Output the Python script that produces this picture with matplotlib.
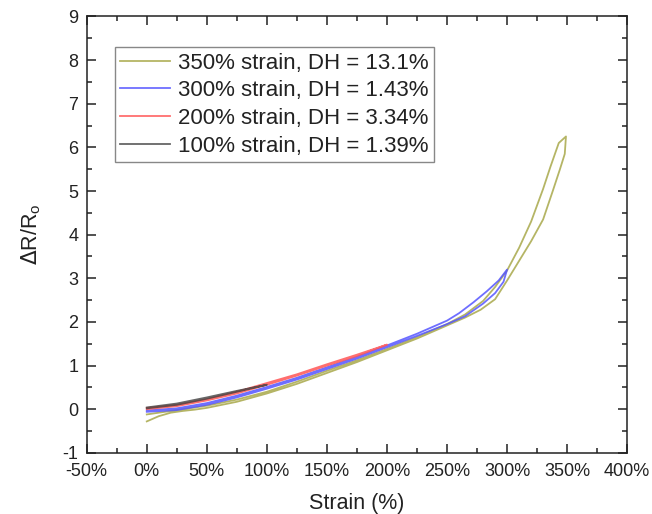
import numpy as np
import matplotlib.pyplot as plt
from matplotlib.ticker import MultipleLocator, PercentFormatter

plt.rcParams['font.family'] = ['Liberation Sans', 'DejaVu Sans']
plt.rcParams['axes.unicode_minus'] = False

# 350% strain cycle (load then unload), strain in %
s350_x = [0, 5, 10, 20, 30, 40, 50, 75, 100, 125, 150, 175, 200, 225, 250, 265, 278,
          290, 300, 310, 320, 330, 338, 344, 348, 349,
          343, 336, 330, 320, 310, 300, 290, 280, 265, 250, 225, 200, 175, 150, 125,
          100, 75, 50, 30, 15, 0]
s350_y = [-0.28, -0.22, -0.16, -0.08, -0.04, -0.01, 0.03, 0.17, 0.36, 0.58, 0.83, 1.08, 1.35, 1.62, 1.92, 2.1, 2.28,
          2.52, 2.95, 3.4, 3.85, 4.35, 5.0, 5.5, 5.85, 6.25,
          6.1, 5.55, 5.05, 4.3, 3.7, 3.18, 2.8, 2.48, 2.17, 1.95, 1.65, 1.38, 1.12, 0.88, 0.63,
          0.4, 0.22, 0.08, 0.0, -0.06, -0.12]

# 300% strain cycle
s300_x = [0, 25, 50, 75, 100, 125, 150, 175, 200, 225, 250, 265, 280, 290, 297, 300,
          293, 283, 272, 260, 250, 225, 200, 175, 150, 125, 100, 75, 50, 25, 0]
s300_y = [-0.06, -0.02, 0.1, 0.27, 0.47, 0.68, 0.92, 1.16, 1.42, 1.68, 1.95, 2.13, 2.42, 2.66, 2.92, 3.2,
          2.95, 2.7, 2.45, 2.2, 2.03, 1.73, 1.46, 1.2, 0.96, 0.72, 0.51, 0.31, 0.14, 0.02, -0.03]

# 200% strain cycle
s200_x = [0, 25, 50, 75, 100, 125, 150, 175, 200, 175, 150, 125, 100, 75, 50, 25, 0]
s200_y = [0.0, 0.07, 0.2, 0.36, 0.56, 0.77, 1.0, 1.22, 1.48, 1.25, 1.03, 0.8, 0.6, 0.4, 0.23, 0.1, 0.03]

# 100% strain cycle
s100_x = [0, 25, 50, 75, 100, 75, 50, 25, 0]
s100_y = [0.02, 0.1, 0.24, 0.4, 0.56, 0.42, 0.27, 0.13, 0.04]

labels = ['350% strain, DH = 13.1%', '300% strain, DH = 1.43%',
          '200% strain, DH = 3.34%', '100% strain, DH = 1.39%']

fig = plt.figure(figsize=(6.52, 5.14), dpi=100)
ax = fig.add_axes([0.133, 0.119, 0.829, 0.849])

ax.plot(s350_x, s350_y, color='#b5b565', lw=1.3, label=labels[0])
ax.plot(s300_x, s300_y, color='#5555ff', lw=1.3, alpha=0.85, label=labels[1])
ax.plot(s200_x, s200_y, color='#ff5555', lw=1.3, alpha=0.85, label=labels[2])
ax.plot(s100_x, s100_y, color='#404040', lw=1.3, alpha=0.8, label=labels[3])

ax.set_xlim(-50, 400)
ax.set_ylim(-1, 9)
ax.xaxis.set_major_locator(MultipleLocator(50))
ax.xaxis.set_minor_locator(MultipleLocator(25))
ax.yaxis.set_major_locator(MultipleLocator(1))
ax.yaxis.set_minor_locator(MultipleLocator(0.5))
ax.xaxis.set_major_formatter(PercentFormatter(decimals=0))

ax.tick_params(which='both', direction='in', top=True, right=True, width=1.1, colors='#222222')
ax.tick_params(which='major', length=6.3, labelsize=13, labelcolor='#222222')
ax.tick_params(which='minor', length=3.8)
ax.tick_params(axis='x', which='major', pad=7)
ax.tick_params(axis='y', which='major', pad=6)
for sp in ax.spines.values():
    sp.set_linewidth(1.1)
    sp.set_color('#222222')

ax.set_xlabel('Strain (%)', fontsize=15.5, color='#222222', labelpad=10)
ax.set_ylabel(r'$\Delta$R/R$_\mathregular{o}$', fontsize=15.5, color='#222222', labelpad=14)

leg = ax.legend(loc='upper left', bbox_to_anchor=(0.052, 0.930), borderaxespad=0,
                fontsize=16, fancybox=False, edgecolor='#888888', framealpha=1,
                handlelength=2.25, handletextpad=0.35, labelspacing=0.3, borderpad=0.25)
leg.get_frame().set_linewidth(1.0)
for t in leg.get_texts():
    t.set_color('#222222')

fig.savefig('out.png', dpi=100)
